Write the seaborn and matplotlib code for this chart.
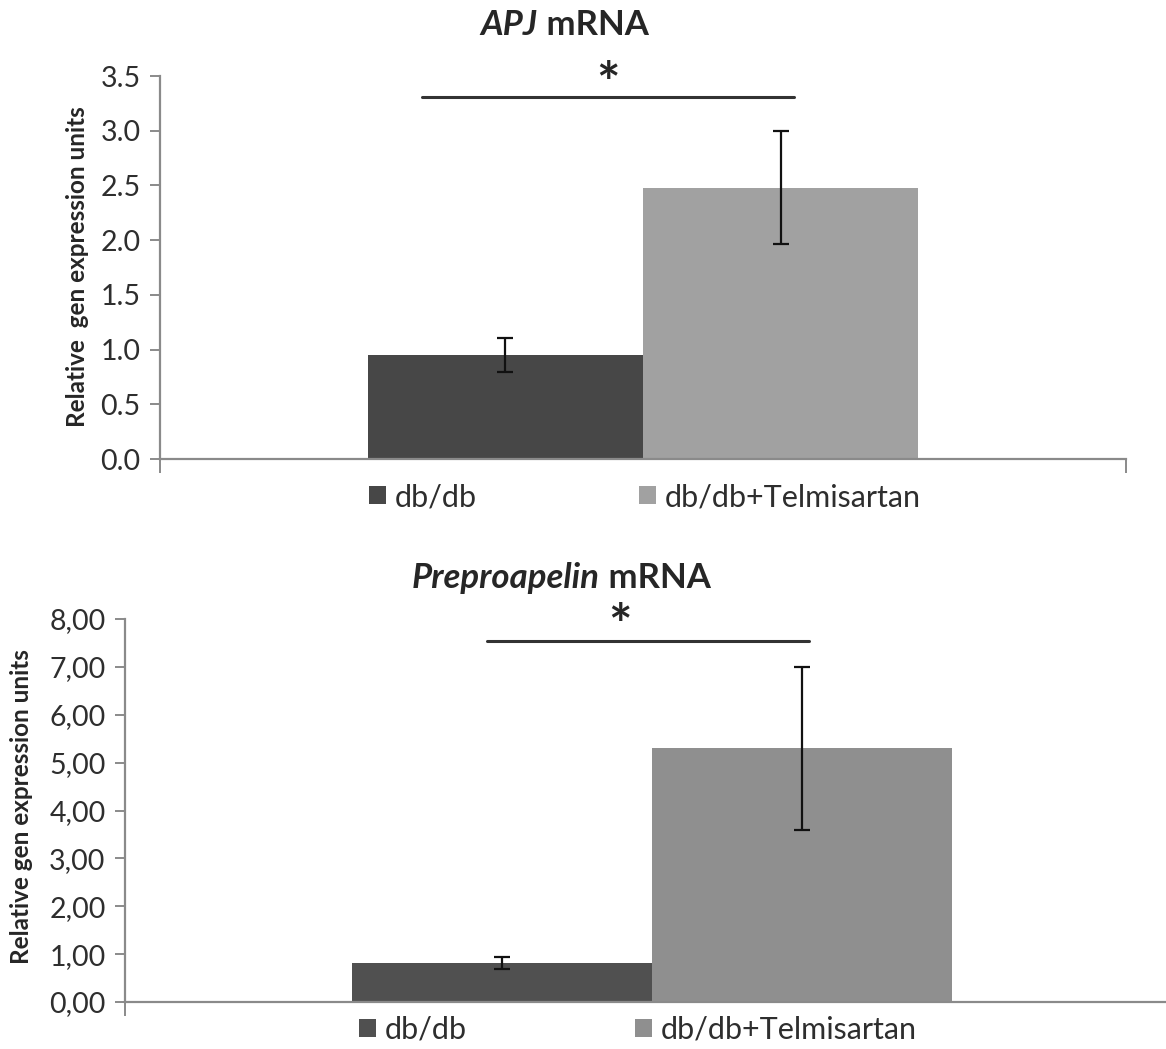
import matplotlib
matplotlib.use('Agg')
import matplotlib.pyplot as plt
from matplotlib.patches import Patch
import seaborn as sns
import pandas as pd

# data
groups = ['db/db', 'db/db+Telmisartan']
apj_mean = [0.95, 2.48]
apj_err = [0.155, 0.515]
prepro_mean = [0.82, 5.30]
prepro_err = [0.13, 1.70]

apj_ticks = [0.0, 0.5, 1.0, 1.5, 2.0, 2.5, 3.0, 3.5]
apj_ticklabels = ['0.0', '0.5', '1.0', '1.5', '2.0', '2.5', '3.0', '3.5']
prepro_ticks = [0, 1, 2, 3, 4, 5, 6, 7, 8]
prepro_ticklabels = ['0,00', '1,00', '2,00', '3,00', '4,00', '5,00', '6,00', '7,00', '8,00']

top_colors = ['#474747', '#a1a1a1']
bottom_colors = ['#505050', '#8f8f8f']

sns.set_style('white')
plt.rcParams['font.family'] = ['Lato', 'DejaVu Sans']

W, H = 1166, 1049
fig = plt.figure(figsize=(W / 100, H / 100), dpi=100)


def px_axes(left, top, right, bottom):
    return fig.add_axes([left / W, 1 - bottom / H, (right - left) / W, (bottom - top) / H])


def fx(x):
    return x / W


def fy(y):
    return 1 - y / H


def draw_panel(ax, means, errs, colors, ymax, ticks, ticklabels, extend_right):
    df = pd.DataFrame({'gene': ['mRNA', 'mRNA'], 'group': groups, 'value': means})
    sns.barplot(data=df, x='gene', y='value', hue='group', hue_order=groups,
                palette=colors, width=0.57, saturation=1, errorbar=None,
                legend=False, linewidth=0, ax=ax)
    for cont, err in zip(ax.containers, errs):
        bar = cont.patches[0]
        xc = bar.get_x() + bar.get_width() / 2
        ax.errorbar(xc, bar.get_height(), yerr=err, fmt='none', ecolor='#111111',
                    elinewidth=1.6, capsize=6, capthick=1.6)
    ax.set_ylim(0, ymax)
    ax.set_xlim(-0.5, 0.5)
    ax.set_yticks(ticks)
    ax.set_yticklabels(ticklabels, fontsize=20.5, color='#2e2e2e')
    ax.set_xticks([-0.5, 0.5] if not extend_right else [-0.5])
    ax.set_xticklabels([''] * len(ax.get_xticks()))
    ax.set_xlabel('')
    ax.set_ylabel('')
    ax.tick_params(axis='y', direction='out', length=7, width=1.4, color='#8a8a8a', pad=7, left=True)
    ax.tick_params(axis='x', direction='out', length=10, width=1.4, color='#8a8a8a', bottom=True)
    for s in ['top', 'right']:
        ax.spines[s].set_visible(False)
    for s in ['left', 'bottom']:
        ax.spines[s].set_color('#8a8a8a')
        ax.spines[s].set_linewidth(1.6)


# ---- top panel: APJ ----
ax1 = px_axes(160, 76, 1126, 459)
draw_panel(ax1, apj_mean, apj_err, top_colors, 3.5, apj_ticks, apj_ticklabels, False)
ax1.plot([-0.229, 0.156], [3.31, 3.31], color='#333333', lw=2.2, clip_on=False)
ax1.text(-0.036, 3.41, '*', ha='center', va='center', fontsize=40, fontweight='bold', clip_on=False)

fig.text(fx(538), fy(25), 'APJ', style='italic', fontweight='bold', fontsize=25, ha='right', va='center')
fig.text(fx(538), fy(25), ' mRNA', fontweight='bold', fontsize=25, ha='left', va='center')
fig.text(fx(78), fy(267), 'Relative  gen expression units', rotation=90, fontweight='bold',
         fontsize=17.5, ha='center', va='center')

handles1 = [Patch(facecolor=c, edgecolor='none') for c in top_colors]
fig.legend(handles1, groups, loc='center', bbox_to_anchor=(fx(645), fy(497)), ncol=2,
           frameon=False, fontsize=22, handlelength=0.55, handleheight=0.55,
           handletextpad=0.3, columnspacing=5.3, labelcolor='#2e2e2e')

# ---- bottom panel: Preproapelin ----
ax2 = px_axes(125, 619, 1179, 1002)
draw_panel(ax2, prepro_mean, prepro_err, bottom_colors, 8, prepro_ticks, prepro_ticklabels, True)
ax2.plot([-0.157, 0.149], [7.55, 7.55], color='#333333', lw=2.2, clip_on=False)
ax2.text(-0.030, 7.82, '*', ha='center', va='center', fontsize=40, fontweight='bold', clip_on=False)

fig.text(fx(600), fy(578), 'Preproapelin', style='italic', fontweight='bold', fontsize=25, ha='right', va='center')
fig.text(fx(600), fy(578), ' mRNA', fontweight='bold', fontsize=25, ha='left', va='center')
fig.text(fx(22), fy(807), 'Relative gen expression units', rotation=90, fontweight='bold',
         fontsize=17.5, ha='center', va='center')

handles2 = [Patch(facecolor=c, edgecolor='none') for c in bottom_colors]
fig.legend(handles2, groups, loc='center', bbox_to_anchor=(fx(638), fy(1030)), ncol=2,
           frameon=False, fontsize=22, handlelength=0.55, handleheight=0.55,
           handletextpad=0.3, columnspacing=5.5, labelcolor='#2e2e2e')

fig.savefig('out.png', dpi=100, facecolor='white')
